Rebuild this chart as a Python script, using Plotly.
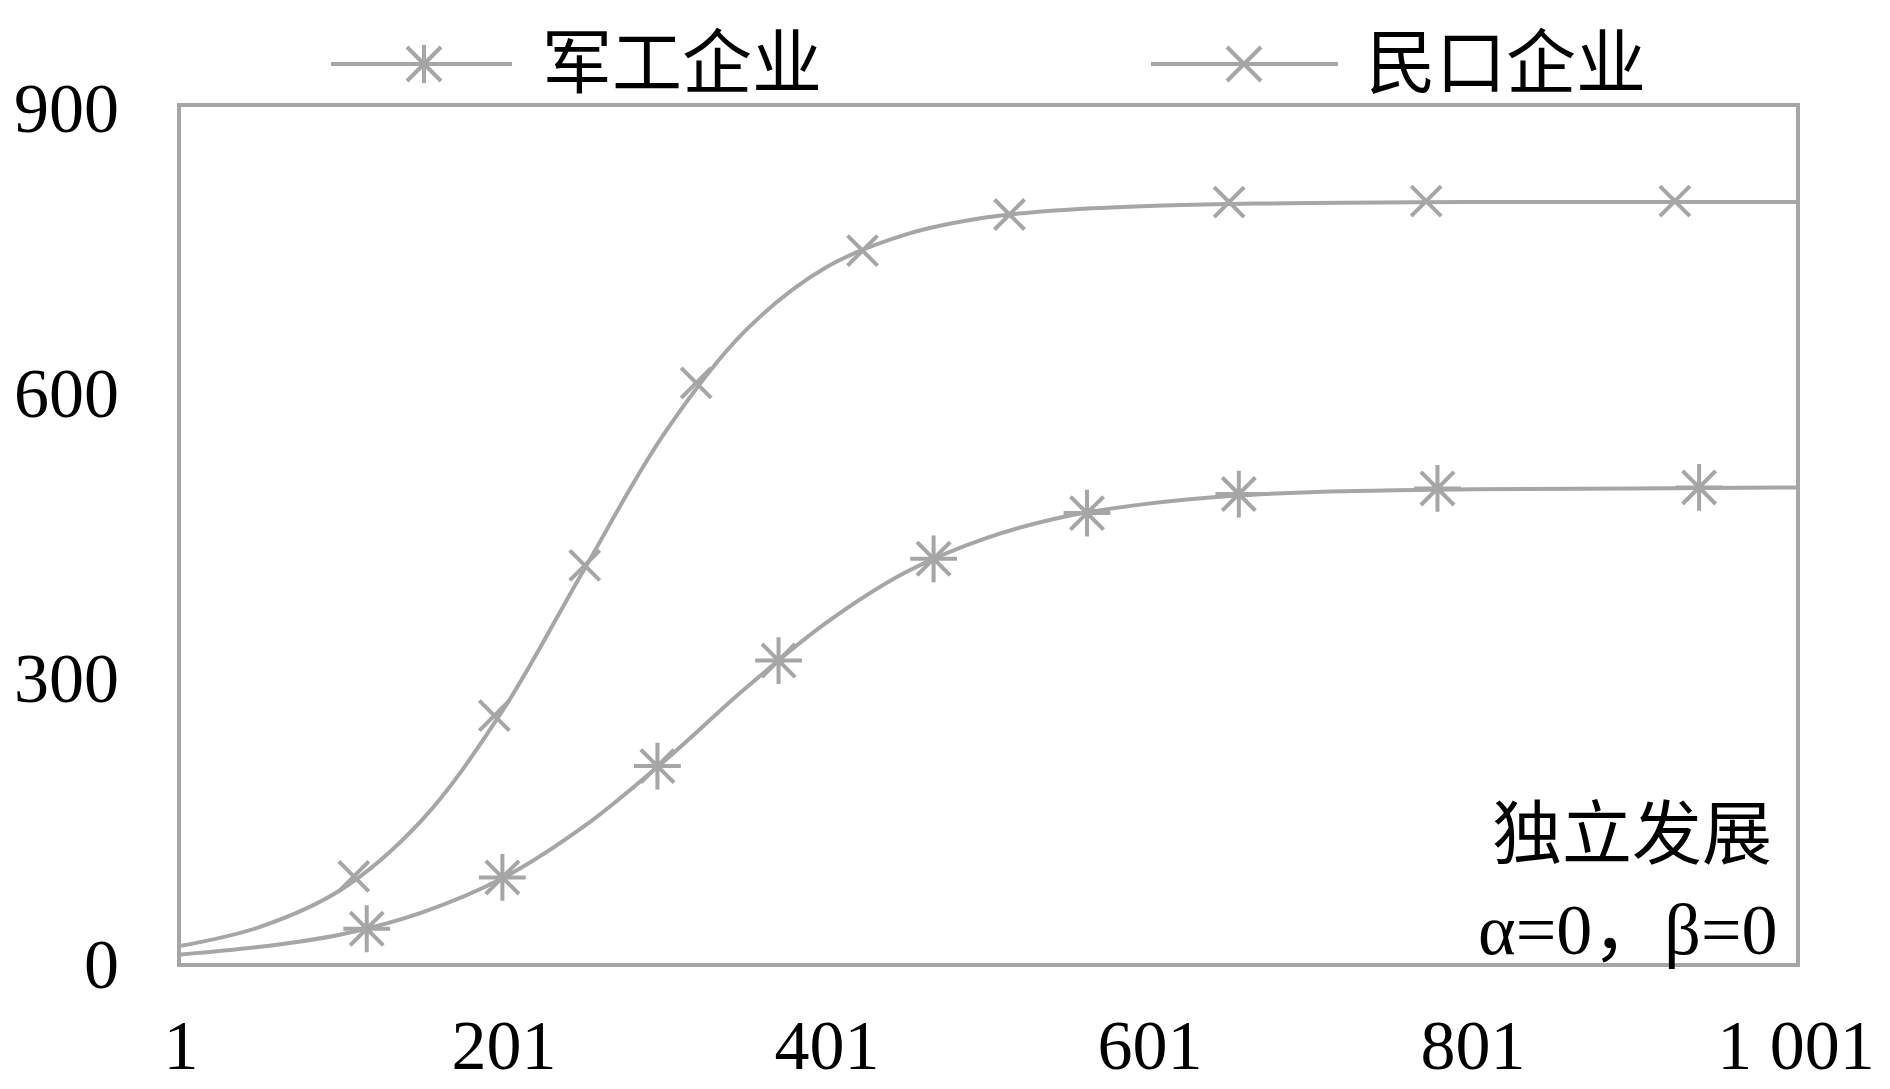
import plotly.graph_objects as go

# ---- data ----
line_x = [1, 50, 100, 150, 200, 250, 300, 350, 400, 450, 500, 550, 600, 650, 700, 800, 900, 1001]
civil_line = [18, 38, 77, 150, 265, 412, 556, 664, 731, 766, 784, 792, 796, 798, 799, 800, 800, 800]
military_line = [9, 17, 30, 53, 89, 143, 212, 288, 357, 411, 447, 470, 483, 491, 495, 498, 499, 500]

civil_mx = [108, 195, 251, 320, 423, 514, 650, 772, 926]
civil_my = [91, 260, 418, 610, 749, 787, 800, 801, 801]
military_mx = [116, 200, 296, 371, 467, 562, 656, 779, 941]
military_my = [36, 90, 207, 318, 425, 473, 493, 499, 500]

x_tickvals = [1, 201, 401, 601, 801, 1001]
x_ticktext = ["1", "201", "401", "601", "801", "1 001"]
y_tickvals = [0, 300, 600, 900]

series_names = ["军工企业", "民口企业"]
note_lines = ["独立发展", "α=0，β=0"]

GRAY = "#A6A6A6"
FONT = "Liberation Serif, Noto Sans CJK SC, serif"
LW = 4
X_MARK = dict(symbol="x-thin", size=30, line=dict(color=GRAY, width=4))
AST_MARK = dict(symbol="asterisk", size=39, line=dict(color=GRAY, width=4))

# page geometry (pixels in the browser window); the html body adds an 8px offset
OFF = 8
W, H = 1890, 1089
PL, PR, PT, PB = 181, 1796, 107, 963
L_W, L_H = PR - PL, PB - PT
X0, X1 = 1, 1001
Y0, Y1 = 0, 900

def px_x(p):
    return (p - PL) / L_W

def px_y(p):
    return (PB - p) / L_H

fig = go.Figure()

# curves
fig.add_trace(go.Scatter(x=line_x, y=civil_line, mode="lines", line=dict(color=GRAY, width=LW, shape="spline"),
                         showlegend=False, hoverinfo="skip"))
fig.add_trace(go.Scatter(x=line_x, y=military_line, mode="lines", line=dict(color=GRAY, width=LW, shape="spline"),
                         showlegend=False, hoverinfo="skip"))
# markers
fig.add_trace(go.Scatter(x=civil_mx, y=civil_my, mode="markers", name=series_names[1],
                         marker=X_MARK, showlegend=False, cliponaxis=False))
fig.add_trace(go.Scatter(x=military_mx, y=military_my, mode="markers", name=series_names[0],
                         marker=AST_MARK, showlegend=False, cliponaxis=False))

# hand-drawn legend (above the plot area)
leg_py = 64
leg_y = px_y(leg_py)

def seg(cx, x0, y0, x1, y1):
    return dict(type="line", xref="paper", yref="paper",
                xsizemode="pixel", ysizemode="pixel", xanchor=px_x(cx), yanchor=leg_y,
                x0=x0, x1=x1, y0=y0, y1=y1, line=dict(color=GRAY, width=4))

shapes = [
    dict(type="line", xref="paper", yref="paper", x0=px_x(331), x1=px_x(512), y0=leg_y, y1=leg_y,
         line=dict(color=GRAY, width=LW)),
    dict(type="line", xref="paper", yref="paper", x0=px_x(1151), x1=px_x(1338), y0=leg_y, y1=leg_y,
         line=dict(color=GRAY, width=LW)),
    # asterisk glyph
    seg(424, 0, -19, 0, 19),
    seg(424, -17, -17, 17, 17),
    seg(424, -17, 17, 17, -17),
    # x glyph
    seg(1244, -17, -17, 17, 17),
    seg(1244, -17, 17, 17, -17),
]

annotations = [
    dict(x=px_x(540), y=leg_y, xref="paper", yref="paper", text=series_names[0], showarrow=False,
         xanchor="left", yanchor="middle", font=dict(family=FONT, size=70, color="black")),
    dict(x=px_x(1364), y=leg_y, xref="paper", yref="paper", text=series_names[1], showarrow=False,
         xanchor="left", yanchor="middle", font=dict(family=FONT, size=70, color="black")),
    dict(x=px_x(1774), y=px_y(835), xref="paper", yref="paper", text=note_lines[0], showarrow=False,
         xanchor="right", yanchor="middle", font=dict(family=FONT, size=70, color="black")),
    dict(x=px_x(1780), y=px_y(930), xref="paper", yref="paper", text=note_lines[1], showarrow=False,
         xanchor="right", yanchor="middle", font=dict(family=FONT, size=72, color="black")),
]

fig.update_layout(
    width=W - OFF, height=H - OFF,
    margin=dict(l=PL - OFF, r=W - PR, t=PT - OFF, b=H - PB, pad=0),
    paper_bgcolor="white", plot_bgcolor="white",
    showlegend=False,
    shapes=shapes, annotations=annotations,
    xaxis=dict(range=[X0, X1], tickvals=x_tickvals, ticktext=x_ticktext, showgrid=False, zeroline=False,
               showline=True, mirror=True, linecolor=GRAY, linewidth=4, ticks="", automargin=False,
               ticklabelstandoff=18, tickfont=dict(family=FONT, size=70, color="black")),
    yaxis=dict(range=[Y0, Y1], tickvals=y_tickvals, showgrid=False, zeroline=False,
               showline=True, mirror=True, linecolor=GRAY, linewidth=4, ticks="", automargin=False,
               ticklabelstandoff=44, tickfont=dict(family=FONT, size=70, color="black")),
)

fig.write_html("out.html")
